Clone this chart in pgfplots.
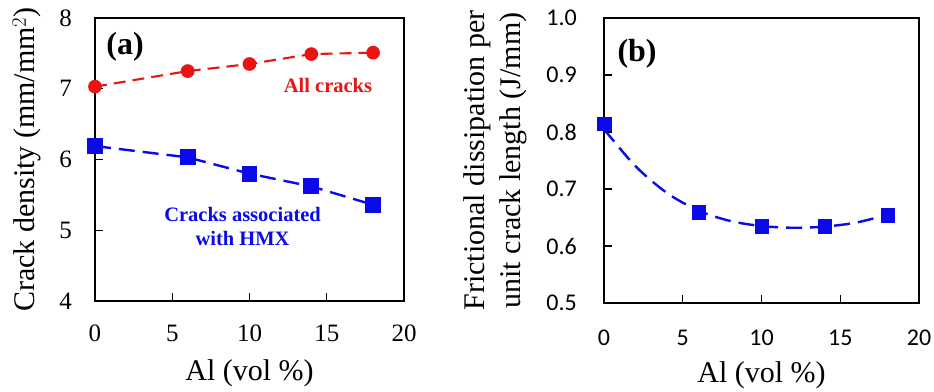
\documentclass[border=0pt]{standalone}
\usepackage{pgfplots}
\pgfplotsset{compat=1.18}
\usepackage{fontspec}
\setmainfont{Liberation Serif}
\newfontfamily\carlito{Carlito}
\definecolor{myred}{RGB}{235,20,20}
\definecolor{myblue}{RGB}{10,10,235}
\begin{document}
\begin{tikzpicture}
\path[use as bounding box] (0pt,0pt) rectangle (934pt,391pt);
% ---------- panel (a)
\begin{axis}[
  at={(95pt,90pt)}, anchor=south west,
  scale only axis, width=309pt, height=283pt,
  xmin=0, xmax=20, ymin=4, ymax=8,
  xtick={0,5,10,15,20}, ytick={4,5,6,7,8},
  tick align=inside, xtick pos=bottom, ytick pos=left,
  major tick length=8pt,
  axis line style={line width=1.6pt}, tick style={line width=1.2pt, black},
  tick label style={font=\fontsize{25}{28}\selectfont},
  /pgf/number format/assume math mode=true,
  yticklabel style={inner sep=0pt, xshift=-23pt},
  xticklabel style={inner sep=0pt, yshift=-24pt},
  xlabel={Al (vol \%)}, ylabel={Crack density (mm/mm$^{2}$)},
  label style={font=\fontsize{30}{34}\selectfont},
  xlabel style={at={(axis description cs:0.5,-0.254)}, anchor=center},
  ylabel style={at={(axis description cs:-0.22,0.5)}, anchor=center},
  clip=false,
]
\addplot[myred, line width=2.1pt, dash pattern=on 12pt off 7pt, mark=*, mark size=5.8pt,
  mark options={solid, fill=myred, draw=myred}]
  coordinates {(0,7.03) (6,7.25) (10,7.35) (14,7.49) (18,7.51)};
\addplot[myblue, line width=2.4pt, dash pattern=on 16pt off 8pt, mark=square*, mark size=6.7pt,
  mark options={solid, fill=myblue, draw=myblue}]
  coordinates {(0,6.19) (6,6.03) (10,5.80) (14,5.62) (18,5.36)};
\node[font=\bfseries\fontsize{32}{34}\selectfont] at (axis cs:1.95,7.59) {(a)};
\node[text=myred, font=\bfseries\fontsize{20.5}{24}\selectfont] at (axis cs:15.08,7.05) {All cracks};
\node[text=myblue, font=\bfseries\fontsize{20.5}{23.5}\selectfont, align=center] at (axis cs:9.55,5.055) {Cracks associated\\with HMX};
\end{axis}
% ---------- panel (b)
\begin{axis}[
  at={(604pt,88pt)}, anchor=south west,
  scale only axis, width=315pt, height=285pt,
  xmin=0, xmax=20, ymin=0.5, ymax=1.0,
  xtick={0,5,10,15,20}, ytick={0.5,0.6,0.7,0.8,0.9,1.0},
  tick align=inside, xtick pos=bottom, ytick pos=left,
  major tick length=8pt,
  axis line style={line width=1.6pt}, tick style={line width=1.2pt, black},
  tick label style={font=\carlito\fontsize{24}{28}\selectfont},
  /pgf/number format/assume math mode=true,
  yticklabel style={inner sep=0pt, xshift=-27pt, /pgf/number format/.cd, fixed, fixed zerofill, precision=1},
  xticklabel style={inner sep=0pt, yshift=-27pt},
  xlabel={Al (vol \%)}, ylabel={Frictional dissipation per\\unit crack length (J/mm)},
  label style={font=\fontsize{30}{36}\selectfont},
  xlabel style={at={(axis description cs:0.5,-0.253)}, anchor=center},
  ylabel style={at={(axis description cs:-0.344,0.5)}, anchor=center, align=center},
  clip=false,
]
\addplot[myblue, line width=2.4pt, dash pattern=on 16pt off 8pt, smooth, no marks]
  coordinates {(0,0.805) (2,0.740) (4,0.693) (6,0.662) (8,0.644) (10,0.635) (12,0.632) (14,0.634) (16,0.641) (18,0.655)};
\addplot[only marks, mark=square*, mark size=6.7pt, mark options={fill=myblue, draw=myblue}]
  coordinates {(0,0.815) (6,0.659) (10,0.635) (14,0.635) (18,0.654)};
\node[font=\bfseries\fontsize{32}{34}\selectfont] at (axis cs:2.1,0.938) {(b)};
\end{axis}
\end{tikzpicture}
\end{document}
